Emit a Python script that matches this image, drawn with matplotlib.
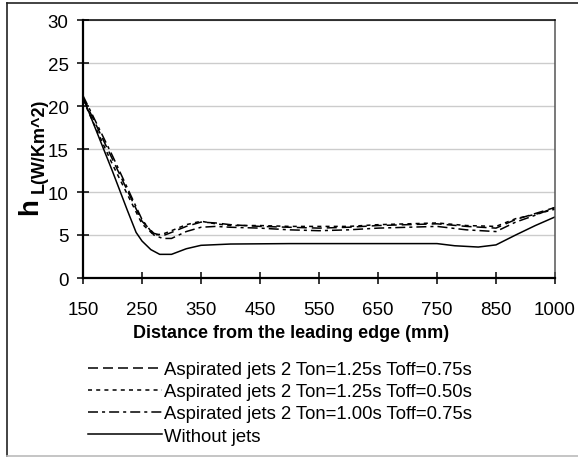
import numpy as np
import matplotlib as mpl
mpl.use('Agg')
import matplotlib.pyplot as plt
from matplotlib.lines import Line2D

plt.rcParams['font.family'] = ['Liberation Sans', 'DejaVu Sans']
plt.rcParams['lines.scale_dashes'] = False

# category axis (equal spacing between labels, as in the original)
tick_mm = [150, 250, 350, 450, 550, 650, 750, 850, 1000]

x_nojet = [150, 200, 225, 240, 250, 265, 280, 300, 325, 350, 400, 500, 600,
           700, 750, 780, 820, 850, 900, 950, 1000]
y_nojet = [21.0, 12.4, 7.9, 5.3, 4.3, 3.3, 2.75, 2.75, 3.4, 3.8, 3.95, 4.0,
           4.0, 4.0, 4.0, 3.75, 3.6, 3.85, 5.0, 6.1, 7.1]

x_jets = [150, 200, 250, 270, 285, 300, 325, 350, 375, 400, 450, 500, 550,
          600, 650, 700, 750, 800, 850, 900, 950, 1000]
y_s1 = [21.0, 13.8, 6.6, 5.2, 4.9, 5.3, 6.0, 6.5, 6.4, 6.2, 6.0, 5.9, 5.8,
        5.9, 6.1, 6.2, 6.3, 6.0, 5.8, 6.8, 7.5, 8.2]
y_s2 = [20.7, 13.2, 6.3, 5.0, 5.1, 5.5, 6.2, 6.6, 6.3, 6.1, 6.1, 6.0, 6.0,
        6.0, 6.2, 6.3, 6.4, 6.1, 6.0, 6.9, 7.4, 8.0]
y_s3 = [21.2, 14.2, 6.8, 5.0, 4.6, 4.6, 5.4, 5.9, 6.0, 5.9, 5.8, 5.6, 5.5,
        5.6, 5.8, 5.9, 6.0, 5.6, 5.4, 6.5, 7.3, 8.2]

labels = ['Aspirated jets 2 Ton=1.25s Toff=0.75s',
          'Aspirated jets 2 Ton=1.25s Toff=0.50s',
          'Aspirated jets 2 Ton=1.00s Toff=0.75s',
          'Without jets']


def pos(xs):
    return np.interp(xs, tick_mm, np.arange(len(tick_mm)))


W, H = 578, 460
fig = plt.figure(figsize=(W / 100, H / 100), dpi=100)
ax = fig.add_axes([83 / W, 1 - 279 / H, (555 - 83) / W, (279 - 21) / H])

lw = 1.1
l1, = ax.plot(pos(x_jets), y_s1, color='black', lw=lw, dashes=(7.2, 3.6))
l2, = ax.plot(pos(x_jets), y_s2, color='black', lw=lw, dashes=(2.9, 3.0))
l3, = ax.plot(pos(x_jets), y_s3, color='black', lw=lw,
              dashes=(7.2, 2.9, 2.2, 2.9))
l4, = ax.plot(pos(x_nojet), y_nojet, color='black', lw=lw)

ax.set_xlim(0, len(tick_mm) - 1)
ax.set_ylim(0, 30)
ax.set_xticks(np.arange(len(tick_mm)))
ax.set_xticklabels([str(t) for t in tick_mm])
ax.set_yticks(range(0, 31, 5))
ax.tick_params(direction='inout', length=8.6, width=1.1, labelsize=13.5,
               color='black')
ax.tick_params(axis='x', pad=12)
ax.tick_params(axis='y', pad=6)
ax.grid(axis='y', color='#cccccc', lw=1.0)
ax.set_axisbelow(True)
ax.spines['left'].set_linewidth(1.6)
ax.spines['bottom'].set_linewidth(1.6)
ax.spines['top'].set_linewidth(1.1)
ax.spines['right'].set_linewidth(1.1)
ax.spines['right'].set_color('#555555')

fig.text(291 / W, 1 - 334 / H, 'Distance from the leading edge (mm)',
         fontsize=13, fontweight='bold', ha='center', va='center')

# y label: big "h" with subscript
fig.text(30 / W, 1 - 207 / H, 'h', fontsize=20, fontweight='bold',
         rotation=90, ha='center', va='center')
fig.text(39 / W, 1 - 146 / H, 'L(W/Km^2)', fontsize=13, fontweight='bold',
         rotation=90, ha='center', va='center')

fig.legend([l1, l2, l3, l4], labels, loc='upper left',
           bbox_to_anchor=(88 / W, 1 - 362 / H), frameon=False, fontsize=13.3,
           handlelength=4.0, handletextpad=0.1, labelspacing=0.28,
           borderpad=0, borderaxespad=0)

# outer frame
fig.add_artist(Line2D([7 / W, 1.0], [1 - 4 / H, 1 - 4 / H], color='#222222',
                      lw=1.2, transform=fig.transFigure))
fig.add_artist(Line2D([7 / W, 7 / W], [1 - 4 / H, 1 - 457 / H],
                      color='#222222', lw=1.2, transform=fig.transFigure))
fig.add_artist(Line2D([7 / W, 1.0], [1 - 457 / H, 1 - 457 / H],
                      color='#bbbbbb', lw=1.2, transform=fig.transFigure))

fig.savefig('out.png', dpi=100)
plt.close('all')
